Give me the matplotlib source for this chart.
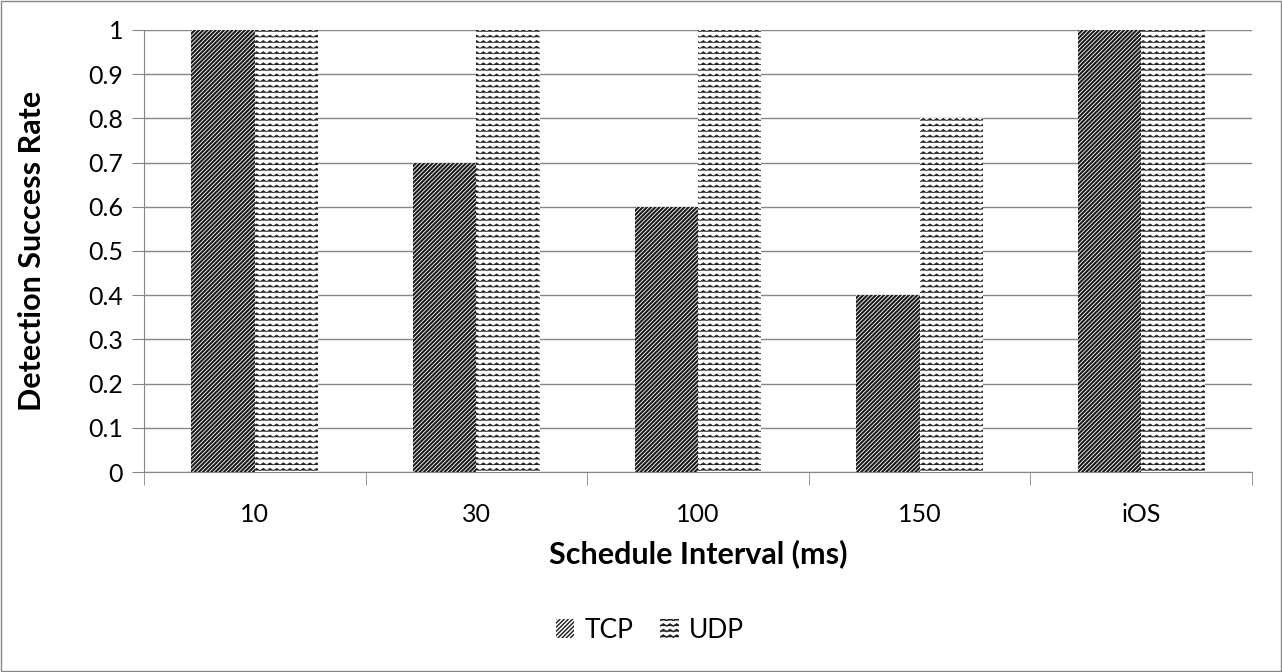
import numpy as np
import matplotlib
matplotlib.use("Agg")
import matplotlib.pyplot as plt
from matplotlib import hatch as mhatch
from matplotlib.path import Path
from matplotlib.patches import Rectangle

categories = ["10", "30", "100", "150", "iOS"]
tcp = [1.0, 0.7, 0.6, 0.4, 1.0]
udp = [1.0, 1.0, 1.0, 0.8, 1.0]


class WaveHatch(mhatch.HatchPatternBase):
    # little zigzag rows, close to the Excel "wave" fill
    def __init__(self, hatch, density):
        self.num_rows = int(hatch.count('~') * density)
        self.num_waves = int(self.num_rows * 0.85)
        self.pts = 2 * self.num_waves + 1
        self.num_vertices = self.num_rows * self.pts if self.num_rows else 0

    def set_vertices_and_codes(self, vertices, codes):
        n = self.num_rows
        amp = 0.2 / n
        xs = np.linspace(0, 1, self.pts)
        k = 0
        for i in range(n):
            y0 = (i + 0.5) / n
            for j, x in enumerate(xs):
                vertices[k] = (x, y0 + (amp if j % 2 else -amp))
                codes[k] = Path.MOVETO if j == 0 else Path.LINETO
                k += 1


mhatch._hatch_types.append(WaveHatch)

plt.rcParams['font.family'] = ['Lato', 'DejaVu Sans']

fig = plt.figure(figsize=(12.82, 6.72), dpi=100)
ax = fig.add_axes([0.1123, 0.2976, 0.8643, 0.6578])

x = np.arange(len(categories))
w = 0.286

with plt.rc_context({'hatch.linewidth': 1.5, 'hatch.color': '#1a1a1a'}):
    b1 = ax.bar(x - w / 2, tcp, w, color='white', hatch='////////',
                edgecolor='#1a1a1a', linewidth=0, label='TCP', zorder=3)
with plt.rc_context({'hatch.linewidth': 0.5, 'hatch.color': '#222222'}):
    b2 = ax.bar(x + w / 2, udp, w, color='white', hatch='~~~',
                edgecolor='#222222', linewidth=0, label='UDP', zorder=3)

ax.set_xlim(-0.5, len(categories) - 0.5)
ax.set_ylim(0, 1)
ax.set_yticks(np.arange(0, 1.01, 0.1))
ax.set_yticklabels(["0", "0.1", "0.2", "0.3", "0.4", "0.5", "0.6", "0.7",
                    "0.8", "0.9", "1"])
ax.set_xticks(x)
ax.set_xticklabels(categories)
ax.set_xticks(np.arange(-0.5, len(categories), 1), minor=True)
ax.tick_params(axis='x', which='major', length=0, pad=22, labelsize=18)
ax.tick_params(axis='x', which='minor', length=9, color='#868686', direction='out')
ax.tick_params(axis='y', length=9, color='#868686', direction='out',
               labelsize=18, pad=6)
ax.yaxis.grid(True, color='#868686', linewidth=1)
ax.set_axisbelow(True)
for s in ['top', 'right']:
    ax.spines[s].set_visible(False)
for s in ['left', 'bottom']:
    ax.spines[s].set_color('#868686')

ax.set_ylabel('Detection Success Rate', fontsize=22, fontweight='bold', labelpad=30)
ax.set_xlabel('Schedule Interval (ms)', fontsize=22, fontweight='bold', labelpad=10)

leg = fig.legend(handles=[b1, b2], loc='center', bbox_to_anchor=(0.507, 0.062),
                 ncol=2, frameon=False, fontsize=19, handlelength=0.7,
                 handleheight=0.7, columnspacing=1.0, handletextpad=0.4)

fig.patches.append(Rectangle((0.001, 0.001), 0.998, 0.998, transform=fig.transFigure,
                             fill=False, edgecolor='#868686', linewidth=1))

fig.savefig('out.png', dpi=100)
